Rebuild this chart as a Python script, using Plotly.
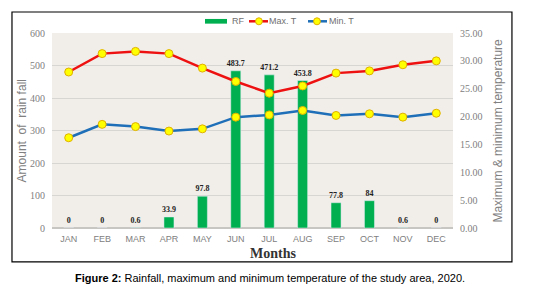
import plotly.graph_objects as go

months = ["JAN", "FEB", "MAR", "APR", "MAY", "JUN", "JUL", "AUG", "SEP", "OCT", "NOV", "DEC"]
rainfall = [0, 0, 0.6, 33.9, 97.8, 483.7, 471.2, 453.8, 77.8, 84, 0.6, 0]
max_t = [28.0, 31.3, 31.7, 31.3, 28.7, 26.3, 24.2, 25.5, 27.8, 28.2, 29.3, 30.0]
min_t = [16.2, 18.6, 18.2, 17.4, 17.8, 19.9, 20.3, 21.1, 20.2, 20.5, 19.9, 20.6]
rain_ticks = [0, 100, 200, 300, 400, 500, 600]
temp_ticks = [0, 5, 10, 15, 20, 25, 30, 35]

GREEN, RED, BLUE, YELLOW, YEDGE = "#00b050", "#ee1111", "#1f6fb8", "#ffff00", "#e0b000"

fig = go.Figure()
lab_font = dict(family="Liberation Serif", size=8, color="#222222")
fig.add_trace(go.Bar(
    x=months, y=rainfall, name="RF", marker_color=GREEN,
    text=[f"<b>{v:g}</b>" for v in rainfall], textposition="outside",
    constraintext="none", textfont=lab_font, outsidetextfont=lab_font,
    cliponaxis=False, yaxis="y", showlegend=False,
))
marker = dict(size=8, color=YELLOW, line=dict(color=YEDGE, width=1))
fig.add_trace(go.Scatter(
    x=months, y=max_t, name="Max. T", mode="lines+markers",
    line=dict(color=RED, width=2.5), marker=marker, yaxis="y2", showlegend=False,
))
fig.add_trace(go.Scatter(
    x=months, y=min_t, name="Min. T", mode="lines+markers",
    line=dict(color=BLUE, width=2.5), marker=marker, yaxis="y2", showlegend=False,
))

# custom legend (paper coordinates)
leg_y = 1.06
mx, my = 0.0085, 0.018
shapes = [
    dict(type="rect", xref="paper", yref="paper",
         x0=-0.0998, x1=1.147, y0=-0.174, y1=1.1077,
         line=dict(color="black", width=1.2), fillcolor="rgba(0,0,0,0)", layer="below"),
    dict(type="rect", xref="paper", yref="paper", x0=0.3815, x1=0.4364,
         y0=leg_y - 0.012, y1=leg_y + 0.012, fillcolor=GREEN, line=dict(width=0)),
    dict(type="line", xref="paper", yref="paper", x0=0.4913, x1=0.5387,
         y0=leg_y, y1=leg_y, line=dict(color=RED, width=2.5)),
    dict(type="circle", xref="paper", yref="paper", x0=0.516 - mx, x1=0.516 + mx,
         y0=leg_y - my, y1=leg_y + my, fillcolor=YELLOW, line=dict(color=YEDGE, width=1)),
    dict(type="line", xref="paper", yref="paper", x0=0.6384, x1=0.6858,
         y0=leg_y, y1=leg_y, line=dict(color=BLUE, width=2.5)),
    dict(type="circle", xref="paper", yref="paper", x0=0.6608 - mx, x1=0.6608 + mx,
         y0=leg_y - my, y1=leg_y + my, fillcolor=YELLOW, line=dict(color=YEDGE, width=1)),
]
leg_font = dict(family="Liberation Sans", size=9, color="#707070")
legend_labels = [("RF", 0.4464), ("Max. T", 0.5387), ("Min. T", 0.6883)]

tickfont_y = dict(family="Liberation Serif", size=10, color="#808080")
tickfont_x = dict(family="Liberation Sans", size=9, color="#808080")

annotations = [
    dict(text="Amount  of  rain fall", xref="paper", yref="paper",
         x=-0.075, y=0.5, textangle=-90, showarrow=False,
         xanchor="center", yanchor="middle",
         font=dict(family="Liberation Sans", size=12, color="#808080")),
    dict(text="Maximum & minimum temperature", xref="paper", yref="paper",
         x=1.11, y=0.5, textangle=-90, showarrow=False,
         xanchor="center", yanchor="middle",
         font=dict(family="Liberation Sans", size=12, color="#808080")),
    dict(text="<b>Months</b>", xref="paper", yref="paper",
         x=0.551, y=-0.133, showarrow=False,
         xanchor="center", yanchor="middle",
         font=dict(family="Liberation Serif", size=14, color="#333333")),
    dict(text="<b>Figure 2:</b> Rainfall, maximum and minimum temperature of the study area, 2020.",
         xref="paper", yref="paper", x=0.5436, y=-0.256, showarrow=False,
         xanchor="center", yanchor="middle",
         font=dict(family="Liberation Sans", size=11, color="black")),
]
for txt, lx in legend_labels:
    annotations.append(dict(text=txt, xref="paper", yref="paper", x=lx, y=leg_y,
                            xanchor="left", yanchor="middle", showarrow=False,
                            borderpad=0, font=leg_font))

fig.update_layout(
    width=530, height=287,
    margin=dict(l=44, r=85, t=25, b=67, autoexpand=False),
    paper_bgcolor="white", plot_bgcolor="#f1eee9",
    bargap=0.7,
    showlegend=False,
    xaxis=dict(range=[-0.5, 11.5], showgrid=False, tickfont=tickfont_x,
               ticks="", showline=False, zeroline=False, automargin=False,
               ticklabelstandoff=4),
    yaxis=dict(range=[0, 600], tickvals=rain_ticks, tickfont=tickfont_y,
               gridcolor="#d8d6d2", gridwidth=1, zeroline=True,
               zerolinecolor="#c8c6c2", ticks="", showline=False, automargin=False,
               ticklabelstandoff=6),
    yaxis2=dict(range=[0, 35], tickvals=temp_ticks, tickformat=".2f",
                overlaying="y", side="right", tickfont=tickfont_y,
                showgrid=False, zeroline=False, ticks="", showline=False, automargin=False,
                ticklabelstandoff=6),
    shapes=shapes,
    annotations=annotations,
)

fig.write_html("out.html")
